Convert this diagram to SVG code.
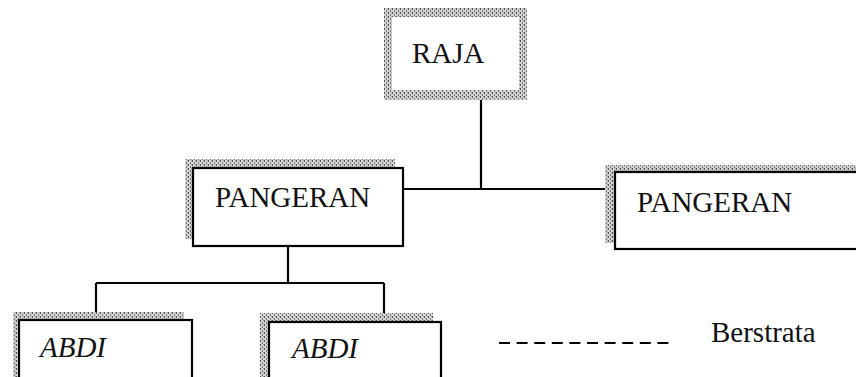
<svg xmlns="http://www.w3.org/2000/svg" width="856" height="377" viewBox="0 0 856 377">
<style>
.box{fill:#fff;stroke:#000;stroke-width:2.2}
.shadow{fill:url(#stip)}
.lbl{font-family:"Liberation Serif",serif;font-size:29px;fill:#111}
.it{font-style:italic}
.con{stroke:#000;stroke-width:2.2;fill:none}
</style>
<defs>
<pattern id="stip" width="4" height="4" patternUnits="userSpaceOnUse">
<rect width="4" height="4" fill="#d4d4d4"/>
<rect x="0" y="0" width="1" height="2" fill="#555"/>
<rect x="2" y="2" width="1" height="2" fill="#777"/>
<rect x="3" y="0" width="1" height="1" fill="#999"/>
</pattern>
</defs>
<g id="connectors">
<line class="con" x1="481" y1="100" x2="481" y2="189"/>
<line class="con" x1="403" y1="189" x2="615" y2="189"/>
<line class="con" x1="288" y1="246" x2="288" y2="283"/>
<line class="con" x1="96" y1="283" x2="384" y2="283"/>
<line class="con" x1="96" y1="283" x2="96" y2="320"/>
<line class="con" x1="384" y1="283" x2="384" y2="322"/>
</g>
<g id="raja">
<rect x="384" y="8" width="143" height="92" fill="url(#stip)"/>
<rect x="392" y="17" width="127" height="73" fill="#fff"/>
<text class="lbl" x="412" y="63" font-size="28">RAJA</text>
</g>
<g id="pangeran-left">
<rect class="shadow" x="185" y="159" width="210" height="80"/>
<rect class="box" x="193" y="168" width="210" height="78"/>
<text class="lbl" x="215" y="207">PANGERAN</text>
</g>
<g id="pangeran-right">
<rect class="shadow" x="605" y="165" width="260" height="78"/>
<rect class="box" x="615" y="172" width="260" height="77"/>
<text class="lbl" x="637" y="212">PANGERAN</text>
</g>
<g id="abdi-left">
<rect class="shadow" x="13" y="312" width="171" height="80"/>
<rect class="box" x="19" y="320" width="173" height="80"/>
<text class="lbl it" x="40" y="357">ABDI</text>
</g>
<g id="abdi-right">
<rect class="shadow" x="260" y="313" width="173" height="80"/>
<rect class="box" x="269" y="322" width="172" height="80"/>
<text class="lbl it" x="292" y="358">ABDI</text>
</g>
<g id="legend">
<line x1="499" y1="343" x2="672" y2="343" stroke="#000" stroke-width="2.2" stroke-dasharray="11 6.6"/>
<text class="lbl" x="711" y="342">Berstrata</text>
</g>
</svg>
